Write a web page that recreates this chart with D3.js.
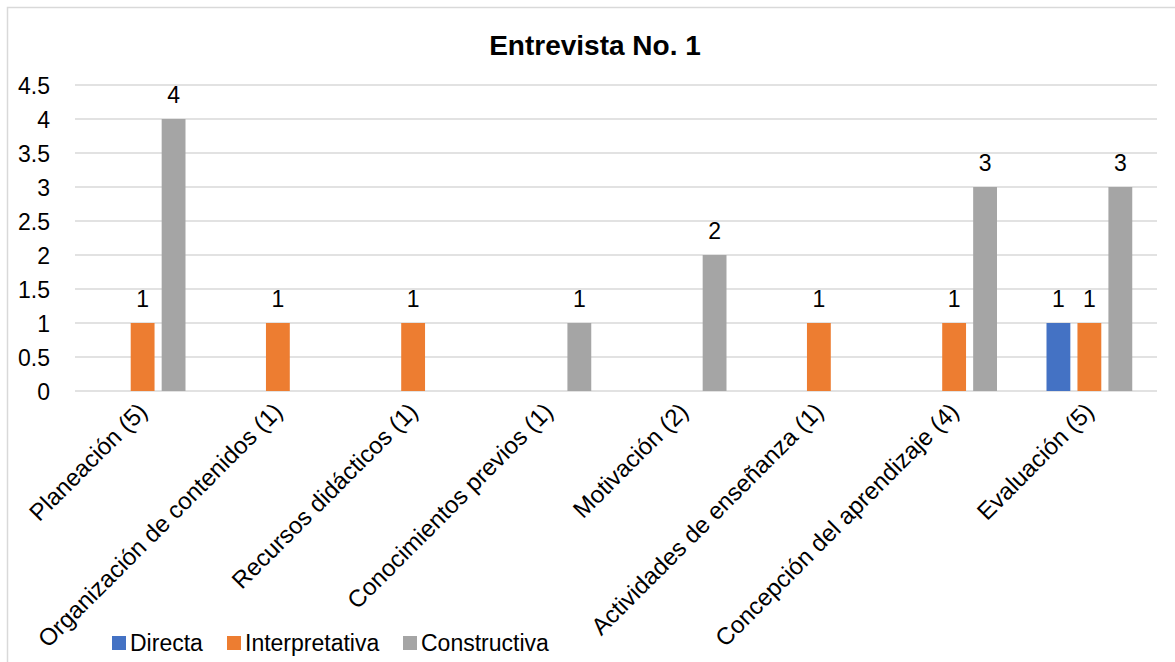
<!DOCTYPE html>
<html>
<head>
<meta charset="utf-8">
<title>Entrevista No. 1</title>
<script src="https://cdn.jsdelivr.net/npm/d3@7"></script>
<style>
  body { margin: 0; background: #fff; }
  text { font-family: "Liberation Sans", Arial, sans-serif; fill: #000; }
</style>
</head>
<body>
<div id="chart"></div>
<script>
// data
var categories = ["Planeación (5)", "Organización de contenidos (1)", "Recursos didácticos (1)",
  "Conocimientos previos (1)", "Motivación (2)", "Actividades de enseñanza (1)",
  "Concepción del aprendizaje (4)", "Evaluación (5)"];
var seriesNames = ["Directa", "Interpretativa", "Constructiva"];
var directa        = [0, 0, 0, 0, 0, 0, 0, 1];
var interpretativa = [1, 1, 1, 0, 0, 1, 1, 1];
var constructiva   = [4, 0, 0, 1, 2, 0, 3, 3];
var yTicks = [0, 0.5, 1, 1.5, 2, 2.5, 3, 3.5, 4, 4.5];
var colors = ["#4472C4", "#ED7D31", "#A5A5A5"];

var seriesValues = [directa, interpretativa, constructiva];

var W = 1175, H = 662;
var margin = {top: 85, right: 18, bottom: 271, left: 75},
    width = W - margin.left - margin.right,
    height = H - margin.top - margin.bottom;

var svg = d3.select("#chart")
  .append("svg")
    .attr("width", W)
    .attr("height", H);

// chart border
svg.append("rect")
  .attr("x", 7.5).attr("y", 7.5)
  .attr("width", W + 20).attr("height", H + 20)
  .attr("fill", "none")
  .attr("stroke", "#d9d9d9")
  .attr("stroke-width", 1.5);

svg.append("text")
  .attr("x", 595).attr("y", 55)
  .attr("text-anchor", "middle")
  .style("font-size", "28px")
  .style("font-weight", "bold")
  .text("Entrevista No. 1");

var g = svg.append("g")
  .attr("transform", "translate(" + margin.left + "," + margin.top + ")");

var x0 = d3.scaleBand()
  .domain(categories)
  .range([0, width])
  .padding(0);

var bw = x0.bandwidth();
var x1 = d3.scaleBand()
  .domain(seriesNames)
  .range([bw * 0.183, bw * 0.817])
  .paddingInner(0.23);

var y = d3.scaleLinear()
  .domain([0, 4.5])
  .range([height, 0]);

// gridlines
g.append("g")
  .selectAll("line")
  .data(yTicks)
  .enter()
  .append("line")
    .attr("x1", 0).attr("x2", width)
    .attr("y1", function(d) { return y(d); })
    .attr("y2", function(d) { return y(d); })
    .attr("stroke", "#d9d9d9")
    .attr("stroke-width", 1.5);

// y axis labels
var yAxis = g.append("g")
  .attr("transform", "translate(-22,0)")
  .call(d3.axisLeft(y).tickValues(yTicks).tickSize(0).tickFormat(d3.format("")));
yAxis.select(".domain").remove();
yAxis.selectAll("text")
  .style("font-size", "23px")
  .attr("font-family", null)
  .attr("dy", "0.36em");

// bars
var groups = g.selectAll(".grp")
  .data(categories)
  .enter()
  .append("g")
    .attr("class", "grp")
    .attr("transform", function(d) { return "translate(" + x0(d) + ",0)"; });

seriesNames.forEach(function(s, si) {
  groups.filter(function(d, i) { return seriesValues[si][i] > 0; })
    .append("rect")
      .attr("x", x1(s))
      .attr("width", x1.bandwidth())
      .attr("y", function(d) { return y(seriesValues[si][categories.indexOf(d)]); })
      .attr("height", function(d) { return height - y(seriesValues[si][categories.indexOf(d)]); })
      .attr("fill", colors[si]);

  groups.filter(function(d, i) { return seriesValues[si][i] > 0; })
    .append("text")
      .attr("x", x1(s) + x1.bandwidth() / 2)
      .attr("y", function(d) { return y(seriesValues[si][categories.indexOf(d)]) - 16; })
      .attr("text-anchor", "middle")
      .style("font-size", "23px")
      .text(function(d) { return seriesValues[si][categories.indexOf(d)]; });
});

// x axis labels
var xAxis = g.append("g")
  .attr("transform", "translate(0," + height + ")")
  .call(d3.axisBottom(x0).tickSize(0));
xAxis.select(".domain").remove();
xAxis.selectAll("text")
  .attr("font-family", null)
  .style("font-size", "24px")
  .attr("text-anchor", "end")
  .attr("dy", null)
  .attr("y", 0)
  .attr("transform", "translate(6,22) rotate(-45)");

// legend
var legendX = [112, 227, 403];
var legend = svg.append("g");
seriesNames.forEach(function(s, i) {
  legend.append("rect")
    .attr("x", legendX[i]).attr("y", 636)
    .attr("width", 14).attr("height", 14)
    .attr("fill", colors[i]);
  legend.append("text")
    .attr("x", legendX[i] + 18).attr("y", 651)
    .style("font-size", "23px")
    .text(s);
});
</script>
</body>
</html>
